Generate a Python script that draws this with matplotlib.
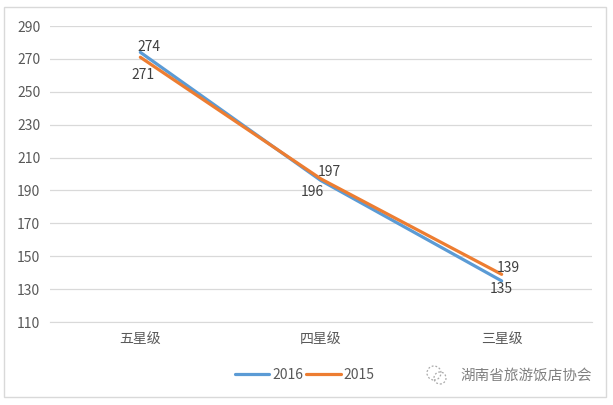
import matplotlib
matplotlib.use("Agg")
import matplotlib.pyplot as plt
from matplotlib.patches import Rectangle, Circle

plt.rcParams['font.family'] = ['Noto Sans CJK SC', 'DejaVu Sans']

# 数据
categorias = ["五星级", "四星级", "三星级"]
valores_2016 = [274, 196, 135]
valores_2015 = [271, 197, 139]
y_ticks = [110, 130, 150, 170, 190, 210, 230, 250, 270, 290]

azul = "#5B9BD5"
laranja = "#ED7D31"
cinza = "#595959"

fig = plt.figure(figsize=(6.13, 4.05), dpi=100)
ax = fig.add_axes([0.0816, 0.2049, 0.8841, 0.7309])

x = list(range(len(categorias)))
ax.plot(x, valores_2016, color=azul, linewidth=2.3, label="2016", solid_capstyle="round")
ax.plot(x, valores_2015, color=laranja, linewidth=2.3, label="2015", solid_capstyle="round")

# rótulos dos valores (deslocamentos em pontos)
desl_2016 = [(6, 4), (-6.5, -8.5), (0, -6)]
desl_2015 = [(2, -13), (6, 5), (4.5, 4.5)]
for i, v in enumerate(valores_2016):
    ax.annotate(str(v), (x[i], v), xytext=desl_2016[i], textcoords="offset points",
                ha="center", va="center", fontsize=10, color="#404040")
for i, v in enumerate(valores_2015):
    ax.annotate(str(v), (x[i], v), xytext=desl_2015[i], textcoords="offset points",
                ha="center", va="center", fontsize=10, color="#404040")

ax.set_xlim(-0.5, 2.5)
ax.set_ylim(110, 290)
ax.set_yticks(y_ticks)
ax.set_xticks(x)
ax.set_xticklabels(categorias)
ax.grid(axis="y", color="#D9D9D9", linewidth=0.9)
ax.set_axisbelow(True)
for lado in ["top", "right", "left"]:
    ax.spines[lado].set_visible(False)
ax.spines["bottom"].set_color("#D9D9D9")
ax.tick_params(axis="both", length=0, labelsize=10, colors=cinza, pad=8)
ax.tick_params(axis="y", pad=7)

leg = fig.legend(loc="center", bbox_to_anchor=(0.497, 0.074), ncol=2, frameon=False,
                 fontsize=10, handlelength=2.5, columnspacing=0.2, handletextpad=0.2)
for t in leg.get_texts():
    t.set_color(cinza)
for h in leg.get_lines():
    h.set_linewidth(2.3)

# moldura do gráfico
fig.patches.append(Rectangle((0.0065, 0.0198), 0.982, 0.963, transform=fig.transFigure,
                             fill=False, edgecolor="#D9D9D9", linewidth=1))

# marca d'água (ícone aproximado + texto)
axi = fig.add_axes([424 / 613, 17 / 405, 26 / 613, 26 / 405])
axi.set_xlim(0, 26)
axi.set_ylim(0, 26)
axi.set_aspect("equal")
axi.axis("off")
axi.add_patch(Circle((10, 15), 7, fill=False, edgecolor="#AAAAAA", linestyle=(0, (1.5, 1.5)), linewidth=0.9))
axi.add_patch(Circle((16, 10), 6, fill=False, edgecolor="#AAAAAA", linestyle=(0, (1.5, 1.5)), linewidth=0.9))
fig.text(460 / 613, 0.072, "湖南省旅游饭店协会", fontsize=10.5, color="#808080",
         ha="left", va="center")

fig.savefig("out.png", dpi=100)
